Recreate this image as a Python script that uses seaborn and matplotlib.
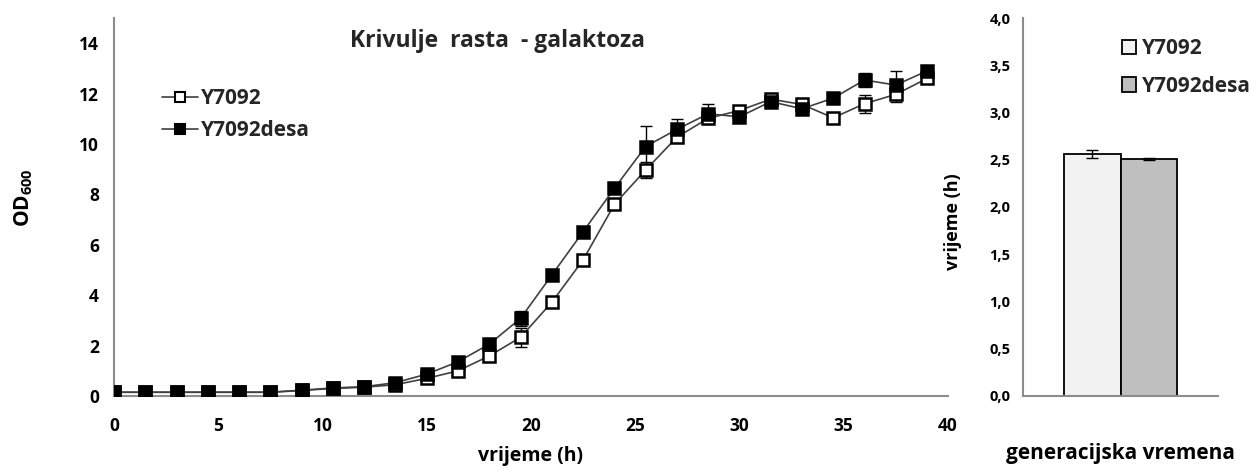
import numpy as np
import pandas as pd
import matplotlib
matplotlib.use("Agg")
import matplotlib.pyplot as plt
import seaborn as sns

# ---- data ----
time_h = [0, 1.5, 3, 4.5, 6, 7.5, 9, 10.5, 12, 13.5, 15, 16.5, 18, 19.5,
          21, 22.5, 24, 25.5, 27, 28.5, 30, 31.5, 33, 34.5, 36, 37.5, 39]
od_wt = [0.15, 0.15, 0.15, 0.15, 0.15, 0.15, 0.22, 0.3, 0.35, 0.45, 0.7, 1.0, 1.59, 2.33,
         3.72, 5.4, 7.6, 8.97, 10.27, 11.02, 11.33, 11.78, 11.57, 11.04, 11.6, 11.97, 12.6]
od_wt_err = [0.03, 0.03, 0.03, 0.03, 0.03, 0.03, 0.03, 0.03, 0.05, 0.05, 0.08, 0.1, 0.12, 0.38,
             0.15, 0.15, 0.15, 0.3, 0.15, 0.15, 0.12, 0.12, 0.12, 0.12, 0.35, 0.3, 0.12]
od_desa = [0.15, 0.15, 0.15, 0.15, 0.15, 0.15, 0.23, 0.32, 0.37, 0.53, 0.87, 1.36, 2.06, 3.08,
           4.8, 6.52, 8.24, 9.9, 10.58, 11.2, 11.08, 11.68, 11.4, 11.82, 12.54, 12.34, 12.9]
od_desa_err = [0.03, 0.03, 0.03, 0.03, 0.03, 0.03, 0.03, 0.03, 0.05, 0.05, 0.08, 0.1, 0.15, 0.3,
               0.12, 0.12, 0.12, 0.8, 0.4, 0.4, 0.12, 0.12, 0.12, 0.12, 0.28, 0.55, 0.12]

strains = ["Y7092", "Y7092desa"]
gen_time = [2.56, 2.51]
gen_time_err = [0.04, 0.01]
bar_category = "generacijska vremena"

# ---- style ----
sns.set_theme(style="white")
plt.rcParams["font.family"] = ["Open Sans", "DejaVu Sans"]
plt.rcParams["font.weight"] = "bold"
plt.rcParams["axes.labelweight"] = "bold"
plt.rcParams["mathtext.fontset"] = "custom"
plt.rcParams["mathtext.bf"] = "Open Sans:bold"
plt.rcParams["mathtext.rm"] = "Open Sans:bold"

fig = plt.figure(figsize=(12.52, 4.68), dpi=100)
ax = fig.add_axes([0.0911, 0.1538, 0.666, 0.8077])
ax2 = fig.add_axes([0.817, 0.1545, 0.156, 0.8065])

spine_col = "#8c8c8c"

# ---- growth curves ----
df = pd.DataFrame({
    "t": time_h * 2,
    "od": od_wt + od_desa,
    "strain": [strains[0]] * len(time_h) + [strains[1]] * len(time_h),
})
for strain, yerr, face in [(strains[0], od_wt_err, "white"), (strains[1], od_desa_err, "black")]:
    sub = df[df["strain"] == strain]
    ax.errorbar(sub["t"], sub["od"], yerr=yerr, fmt="none", ecolor="black",
                elinewidth=1, capsize=4, capthick=1, zorder=2)
    sns.lineplot(data=sub, x="t", y="od", ax=ax, color="#404040", linewidth=1.2,
                 marker="s", markersize=8.5, markerfacecolor=face,
                 markeredgecolor="black", markeredgewidth=1.8, label=strain,
                 zorder=3)

ax.set_xlim(0, 40)
ax.set_ylim(0, 15)
ax.set_xticks(range(0, 41, 5))
ax.set_yticks(range(0, 15, 2))
ax.tick_params(axis="both", labelsize=12.5, length=5, width=1.2, color=spine_col,
               direction="out", pad=6, labelcolor="black")
ax.tick_params(axis="x", pad=10)
for lab in ax.get_xticklabels() + ax.get_yticklabels():
    lab.set_fontweight("bold")
for s in ["top", "right"]:
    ax.spines[s].set_visible(False)
for s in ["left", "bottom"]:
    ax.spines[s].set_color(spine_col)
    ax.spines[s].set_linewidth(1.5)
ax.set_xlabel("vrijeme (h)", fontsize=14, fontweight="bold", labelpad=8, color="black")
ax.set_ylabel("OD$_{600}$", fontsize=15, fontweight="bold", color="black")
ax.yaxis.set_label_coords(-0.095, 0.525)
ax.text(0.46, 0.94, "Krivulje  rasta  - galaktoza", transform=ax.transAxes,
        ha="center", va="center", fontsize=16.5, fontweight="bold")
leg = ax.legend(loc="upper left", bbox_to_anchor=(0.035, 0.865), frameon=False,
                handlelength=1.75, handletextpad=0.1, labelspacing=0.55,
                prop={"weight": "bold", "size": 15})
for h in leg.legend_handles:
    h.set_markersize(7)
    h.set_markeredgewidth(1.5)

# ---- generation time bars ----
bdf = pd.DataFrame({"cat": [bar_category] * 2, "strain": strains, "val": gen_time})
sns.barplot(data=bdf, x="cat", y="val", hue="strain", ax=ax2,
            palette=["#f2f2f2", "#bfbfbf"], width=0.575, edgecolor="black",
            linewidth=1.3, errorbar=None, legend=True)
bars = [p for p in ax2.patches if p.get_height() > 0]
bars.sort(key=lambda p: p.get_x())
for p, err in zip(bars, gen_time_err):
    ax2.errorbar(p.get_x() + p.get_width() / 2, p.get_height(), yerr=err,
                 fmt="none", ecolor="black", elinewidth=1, capsize=4, capthick=1)
ax2.set_xlim(-0.5, 0.5)
ax2.set_ylim(0, 4.0)
ax2.set_yticks(np.arange(0, 4.01, 0.5))
ax2.set_yticklabels([f"{v:.1f}".replace(".", ",") for v in np.arange(0, 4.01, 0.5)])
ax2.set_xticks([])
ax2.tick_params(axis="y", labelsize=10.5, length=5, width=1.2, color=spine_col,
                direction="out", pad=4, labelcolor="black")
for lab in ax2.get_yticklabels():
    lab.set_fontweight("bold")
for s in ["top", "right"]:
    ax2.spines[s].set_visible(False)
for s in ["left", "bottom"]:
    ax2.spines[s].set_color(spine_col)
    ax2.spines[s].set_linewidth(1.5)
ax2.set_xlabel(bar_category, fontsize=15, fontweight="bold", labelpad=34, color="black")
ax2.set_ylabel("vrijeme (h)", fontsize=13, fontweight="bold", color="black")
ax2.yaxis.set_label_coords(-0.31, 0.46)
leg2 = ax2.legend(loc="upper left", bbox_to_anchor=(0.41, 0.997), frameon=False,
                  handlelength=0.7, handleheight=0.7, handletextpad=0.25,
                  labelspacing=0.8, prop={"weight": "bold", "size": 15})

fig.savefig("out.png", dpi=100)
